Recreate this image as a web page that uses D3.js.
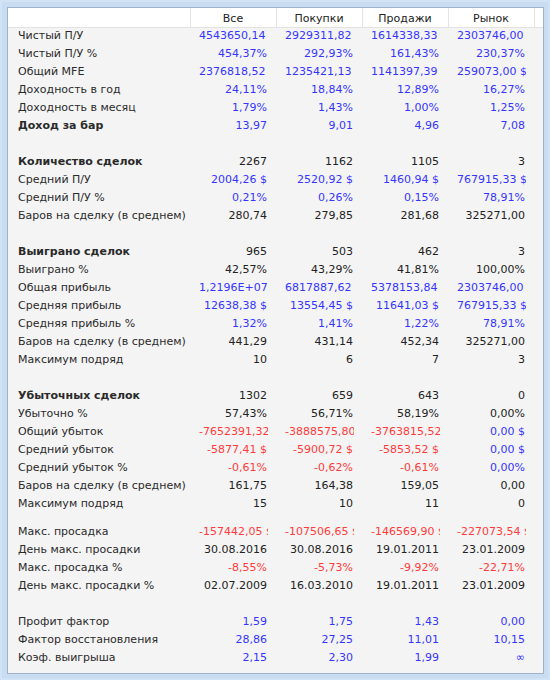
<!DOCTYPE html>
<html><head><meta charset="utf-8">
<script src="https://cdn.jsdelivr.net/npm/d3@7"></script>
<style>html,body{margin:0;padding:0;background:#fff;}svg{display:block;}</style>
</head><body><div id="chart"></div>
<script>
const columns = ["Все", "Покупки", "Продажи", "Рынок"];
const labels = [
  "Чистый П/У","Чистый П/У %","Общий MFE","Доходность в год","Доходность в месяц","Доход за бар","",
  "Количество сделок","Средний П/У","Средний П/У %","Баров на сделку (в среднем)","",
  "Выиграно сделок","Выиграно %","Общая прибыль","Средняя прибыль","Средняя прибыль %","Баров на сделку (в среднем)","Максимум подряд","",
  "Убыточных сделок","Убыточно %","Общий убыток","Средний убыток","Средний убыток %","Баров на сделку (в среднем)","Максимум подряд","-",
  "Макс. просадка","День макс. просадки","Макс. просадка %","День макс. просадки %","",
  "Профит фактор","Фактор восстановления","Коэф. выигрыша"
];
const valuesAll = ["4543650,14 $","454,37%","2376818,52 $","24,11%","1,79%","13,97","",
  "2267","2004,26 $","0,21%","280,74","",
  "965","42,57%","1,2196E+07","12638,38 $","1,32%","441,29","10","",
  "1302","57,43%","-7652391,32 $","-5877,41 $","-0,61%","161,75","15","",
  "-157442,05 $","30.08.2016","-8,55%","02.07.2009","",
  "1,59","28,86","2,15"];
const valuesLong = ["2929311,82 $","292,93%","1235421,13 $","18,84%","1,43%","9,01","",
  "1162","2520,92 $","0,26%","279,85","",
  "503","43,29%","6817887,62 $","13554,45 $","1,41%","431,14","6","",
  "659","56,71%","-3888575,80 $","-5900,72 $","-0,62%","164,38","10","",
  "-107506,65 $","30.08.2016","-5,73%","16.03.2010","",
  "1,75","27,25","2,30"];
const valuesShort = ["1614338,33 $","161,43%","1141397,39 $","12,89%","1,00%","4,96","",
  "1105","1460,94 $","0,15%","281,68","",
  "462","41,81%","5378153,84 $","11641,03 $","1,22%","452,34","7","",
  "643","58,19%","-3763815,52 $","-5853,52 $","-0,61%","159,05","11","",
  "-146569,90 $","19.01.2011","-9,92%","19.01.2011","",
  "1,43","11,01","1,99"];
const valuesMarket = ["2303746,00 $","230,37%","259073,00 $","16,27%","1,25%","7,08","",
  "3","767915,33 $","78,91%","325271,00","",
  "3","100,00%","2303746,00 $","767915,33 $","78,91%","325271,00","3","",
  "0","0,00%","0,00 $","0,00 $","0,00%","0,00","0","",
  "-227073,54 $","23.01.2009","-22,71%","23.01.2009","",
  "0,00","10,15","∞"];
const boldRows = ["Доход за бар","Количество сделок","Выиграно сделок","Убыточных сделок"];
const moneyRows = ["Чистый П/У","Чистый П/У %","Общий MFE","Доходность в год","Доходность в месяц","Доход за бар",
  "Средний П/У","Средний П/У %","Общая прибыль","Средняя прибыль","Средняя прибыль %",
  "Общий убыток","Средний убыток","Средний убыток %","Макс. просадка","Макс. просадка %",
  "Профит фактор","Фактор восстановления","Коэф. выигрыша"];
const seriesValues = [valuesAll, valuesLong, valuesShort, valuesMarket];

const W = 550, H = 680;
const svg = d3.select("#chart").append("svg").attr("width", W).attr("height", H)
  .style("font-family", "'DejaVu Sans', Verdana, sans-serif").style("font-size", "11px");

// frame
svg.append("rect").attr("x",0).attr("y",0).attr("width",W).attr("height",H).attr("fill","#c8dcf2");
svg.append("rect").attr("x",1).attr("y",1).attr("width",W-2).attr("height",H-2).attr("fill","none").attr("stroke","#dce9f8");
svg.append("rect").attr("x",7.5).attr("y",7.5).attr("width",536).attr("height",666).attr("fill","#f4f4f4").attr("stroke","#9fb3c8");

const headerTop = 8, headerH = 19;
svg.append("rect").attr("x",8).attr("y",headerTop).attr("width",535).attr("height",headerH).attr("fill","#ffffff");
svg.append("line").attr("x1",8).attr("x2",543).attr("y1",headerTop+headerH+0.5).attr("y2",headerTop+headerH+0.5).attr("stroke","#e2e2e2");

const x = d3.scaleBand().domain(columns).range([190, 534]);
const seps = [190, ...columns.map(c => x(c) + x.bandwidth())];
svg.selectAll("line.sep").data(seps).join("line").attr("class","sep")
  .attr("x1", d => Math.round(d)+0.5).attr("x2", d => Math.round(d)+0.5)
  .attr("y1", headerTop).attr("y2", headerTop+headerH).attr("stroke","#e4e4e4");
svg.selectAll("text.hdr").data(columns).join("text").attr("class","hdr")
  .attr("x", d => x(d) + x.bandwidth()/2).attr("y", headerTop + 14)
  .attr("text-anchor","middle").attr("fill","#222").text(d => d);

// rows: y positions via cumulative heights
const rowH = labels.map(l => l === "-" ? 10 : 18);
const rowTop = [];
let acc = 26;
rowH.forEach(h => { rowTop.push(acc); acc += h; });
const y = i => rowTop[i] + rowH[i]/2;

const rows = labels.map((l, i) => ({label: l, i}));
svg.selectAll("text.lbl").data(rows.filter(r => r.label && r.label !== "-")).join("text").attr("class","lbl")
  .attr("x", 18).attr("y", d => y(d.i) + 4)
  .attr("fill", "#2a2a2a")
  .attr("font-weight", d => boldRows.includes(d.label) ? "bold" : "normal")
  .text(d => d.label);

const pad = 9;
const defs = svg.append("defs");
columns.forEach((c, ci) => {
  defs.append("clipPath").attr("id","clip"+ci).append("rect")
    .attr("x", x(c) + pad - 1).attr("y", 0).attr("width", x.bandwidth() - 2*pad + 2).attr("height", H);
  const g = svg.append("g").attr("clip-path", `url(#clip${ci})`);
  const cells = seriesValues[ci].map((v, i) => ({v, i, label: labels[i]})).filter(d => d.v);
  g.selectAll("text").data(cells).join("text")
    .attr("y", d => y(d.i) + 4)
    .attr("fill", d => d.v.startsWith("-") ? "#ff3b3b" : (moneyRows.includes(d.label) ? "#3535ff" : "#222"))
    .text(d => d.v)
    .each(function(d) {
      const w = this.getComputedTextLength();
      const avail = x.bandwidth() - 2*pad;
      const sel = d3.select(this);
      if (w > avail) sel.attr("x", x(c) + pad).attr("text-anchor","start");
      else sel.attr("x", x(c) + x.bandwidth() - pad).attr("text-anchor","end");
    });
});
</script></body></html>
